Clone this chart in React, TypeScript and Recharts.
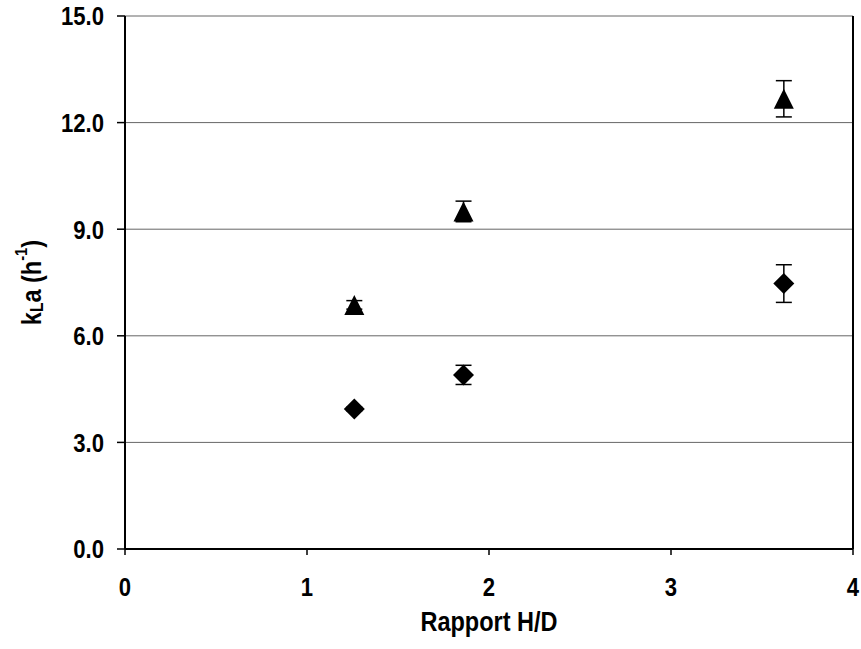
import { ScatterChart, Scatter, XAxis, YAxis, CartesianGrid, ErrorBar, ReferenceLine, Label } from 'recharts'

// Rapport H/D
const ratios = [1.26, 1.86, 3.62]

// kLa (h-1), triangles
const kLaUpper = [6.87, 9.5, 12.67]
const errUpper = [0.12, 0.29, 0.51]

// kLa (h-1), diamonds
const kLaLower = [3.94, 4.9, 7.47]
const errLower = [0.05, 0.27, 0.53]

const yTicks = [0, 3, 6, 9, 12, 15]
const xTicks = [0, 1, 2, 3, 4]

const upperData = ratios.map((x, i) => ({ x, y: kLaUpper[i], err: errUpper[i] }))
const lowerData = ratios.map((x, i) => ({ x, y: kLaLower[i], err: errLower[i] }))

const FONT = '"Liberation Sans", Arial, sans-serif'
// the original text is a bit narrow and tall
const SQUEEZE = 'scale(0.85,1)'

const textStyle = { fill: '#000', fontFamily: FONT, fontWeight: 'bold' as const }

// eslint-disable-next-line @typescript-eslint/no-explicit-any
const Triangle = (props: any) => {
  const { cx, cy } = props
  const h = 10
  return <polygon points={`${cx},${cy - h} ${cx + h},${cy + h} ${cx - h},${cy + h}`} fill="#000" />
}

// eslint-disable-next-line @typescript-eslint/no-explicit-any
const Diamond = (props: any) => {
  const { cx, cy } = props
  const h = 10.5
  return <polygon points={`${cx},${cy - h} ${cx + h},${cy} ${cx},${cy + h} ${cx - h},${cy}`} fill="#000" />
}

// eslint-disable-next-line @typescript-eslint/no-explicit-any
const XTick = (props: any) => {
  const { x, y, payload } = props
  return (
    <g transform={`translate(${x},${y})`}>
      <text transform={SQUEEZE} textAnchor="middle" dy="0.71em" fontSize={26} style={textStyle}>
        {payload.value}
      </text>
    </g>
  )
}

// eslint-disable-next-line @typescript-eslint/no-explicit-any
const YTick = (props: any) => {
  const { x, y, payload } = props
  return (
    <g transform={`translate(${x},${y})`}>
      <text transform={SQUEEZE} textAnchor="end" dy="0.36em" fontSize={26} style={textStyle}>
        {Number(payload.value).toFixed(1)}
      </text>
    </g>
  )
}

// eslint-disable-next-line @typescript-eslint/no-explicit-any
const XTitle = (props: any) => {
  const { viewBox } = props
  const x = viewBox.x + viewBox.width / 2
  const y = viewBox.y + 82
  return (
    <g transform={`translate(${x},${y})`}>
      <text transform="scale(0.87,1)" textAnchor="middle" fontSize={27} style={textStyle}>
        Rapport H/D
      </text>
    </g>
  )
}

// eslint-disable-next-line @typescript-eslint/no-explicit-any
const YTitle = (props: any) => {
  const { viewBox } = props
  const x = viewBox.x + 31
  const y = viewBox.y + viewBox.height / 2
  return (
    <g transform={`translate(${x},${y}) rotate(-90)`}>
      <text transform="scale(0.87,1)" textAnchor="middle" dominantBaseline="central" fontSize={27} style={textStyle}>
        k
        <tspan fontSize={18} dy={6}>L</tspan>
        <tspan dy={-6}>a (h</tspan>
        <tspan fontSize={17} dy={-10}>-1</tspan>
        <tspan dy={10}>)</tspan>
      </text>
    </g>
  )
}

export default function App() {
  return (
    <div style={{ position: 'absolute', left: 0, top: 0, background: '#fff' }}>
      <ScatterChart width={861} height={649} margin={{ top: 16, right: 8, bottom: 0, left: 0 }}>
        <CartesianGrid vertical={false} stroke="#666" strokeWidth={1} />
        <XAxis
          type="number"
          dataKey="x"
          domain={[0, 4]}
          ticks={xTicks}
          height={100}
          axisLine={{ stroke: '#000', strokeWidth: 2 }}
          tickLine={{ stroke: '#000', strokeWidth: 1.5 }}
          tickSize={6}
          tickMargin={23}
          tick={<XTick />}
        >
          <Label content={<XTitle />} />
        </XAxis>
        <YAxis
          type="number"
          dataKey="y"
          domain={[0, 15]}
          ticks={yTicks}
          width={125}
          interval={0}
          axisLine={{ stroke: '#000', strokeWidth: 2 }}
          tickLine={{ stroke: '#000', strokeWidth: 1.5 }}
          tickSize={8}
          tickMargin={13}
          tick={<YTick />}
        >
          <Label content={<YTitle />} />
        </YAxis>
        <ReferenceLine x={4} stroke="#000" strokeWidth={2} />
        <Scatter data={upperData} shape={<Triangle />} isAnimationActive={false}>
          <ErrorBar dataKey="err" direction="y" width={8} stroke="#000" strokeWidth={1.5} />
        </Scatter>
        <Scatter data={lowerData} shape={<Diamond />} isAnimationActive={false}>
          <ErrorBar dataKey="err" direction="y" width={8} stroke="#000" strokeWidth={1.5} />
        </Scatter>
      </ScatterChart>
    </div>
  )
}
